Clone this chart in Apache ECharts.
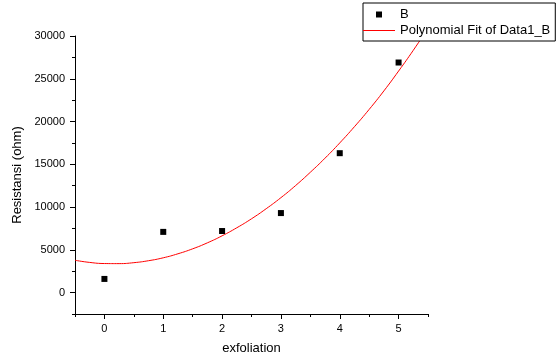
<!DOCTYPE html>
<html>
<head>
<meta charset="utf-8">
<script src="https://cdn.jsdelivr.net/npm/echarts@6/dist/echarts.min.js"></script>
<style>
  html, body { margin: 0; padding: 0; background: #fff; }
  #chart { width: 560px; height: 360px; }
</style>
</head>
<body>
<div id="chart"></div>
<script>
// measured points (series B)
var pointX = [0, 1, 2, 3, 4, 5];
var pointY = [1600, 7100, 7200, 9300, 16300, 26900];

// red curve
var fitX = [-0.5, -0.25, 0, 0.25, 0.5, 0.75, 1, 1.25, 1.5, 1.75, 2, 2.25, 2.5,
            2.75, 3, 3.25, 3.5, 3.75, 4, 4.25, 4.5, 4.75, 5, 5.25, 5.5];
var fitY = [3780, 3530, 3400, 3390, 3500, 3730, 4070, 4540, 5120, 5820, 6640, 7580, 8630,
            9810, 11100, 12520, 14070, 15720, 17500, 19400, 21420, 23580, 25900, 28330, 30900];

// tick positions
var xMajor = [0, 1, 2, 3, 4, 5];
var xMinor = [-0.5, 0.5, 1.5, 2.5, 3.5, 4.5, 5.5];
var yMajor = [0, 5000, 10000, 15000, 20000, 25000, 30000];
var yMinor = [-2500, 2500, 7500, 12500, 17500, 22500, 27500];

var font = "'Liberation Sans', Arial, sans-serif";
var myChart = echarts.init(document.getElementById('chart'));

var gridBox = { left: 75, right: 132, top: 36, bottom: 46, outerBoundsMode: 'none' };

function plain(v) { return String(v); }

myChart.setOption({
  animation: false,
  backgroundColor: '#fff',
  textStyle: { fontFamily: font },
  grid: [
    Object.assign({}, gridBox),
    Object.assign({}, gridBox)
  ],
  legend: {
    orient: 'vertical',
    left: 363,
    top: 3,
    itemWidth: 32,
    itemHeight: 6,
    itemGap: 3,
    padding: [5, 5, 4, 0],
    borderColor: '#000',
    borderWidth: 1,
    backgroundColor: '#fff',
    textStyle: { fontSize: 13, color: '#000', fontFamily: font },
    data: [
      { name: 'B', icon: 'path://M0,0H10V10H0Z' },
      { name: 'Polynomial Fit of Data1_B', icon: 'path://M0,0H32V1H0Z' }
    ]
  },
  xAxis: [
    {
      type: 'value', gridIndex: 0, min: -0.5, max: 5.5,
      name: 'exfoliation', nameLocation: 'middle', nameGap: 28,
      nameTextStyle: { fontSize: 13, color: '#000' },
      splitLine: { show: false },
      axisLine: { onZero: false, lineStyle: { color: '#000', width: 1 } },
      axisTick: { customValues: xMajor, length: 5, lineStyle: { color: '#000' } },
      axisLabel: { customValues: xMajor, fontSize: 11, color: '#000', margin: 9, formatter: plain }
    },
    {
      type: 'value', gridIndex: 1, min: -0.5, max: 5.5,
      splitLine: { show: false },
      axisLine: { show: false, onZero: false },
      axisTick: { customValues: xMinor, length: 3, lineStyle: { color: '#000' } },
      axisLabel: { show: false }
    }
  ],
  yAxis: [
    {
      type: 'value', gridIndex: 0, min: -2500, max: 30000,
      name: 'Resistansi (ohm)', nameLocation: 'middle', nameGap: 46,
      nameTextStyle: { fontSize: 13, color: '#000' },
      splitLine: { show: false },
      axisLine: { show: true, onZero: false, lineStyle: { color: '#000', width: 1 } },
      axisTick: { show: true, customValues: yMajor, length: 5, lineStyle: { color: '#000' } },
      axisLabel: { customValues: yMajor, fontSize: 11, color: '#000', margin: 10, formatter: plain }
    },
    {
      type: 'value', gridIndex: 1, min: -2500, max: 30000,
      splitLine: { show: false },
      axisLine: { show: false, onZero: false },
      axisTick: { show: true, customValues: yMinor, length: 3, lineStyle: { color: '#000' } },
      axisLabel: { show: false }
    }
  ],
  series: [
    {
      name: 'B',
      type: 'scatter',
      xAxisIndex: 0, yAxisIndex: 0,
      symbol: 'rect',
      symbolSize: 6,
      itemStyle: { color: '#000', opacity: 1 },
      data: pointX.map(function (x, i) { return [x, pointY[i]]; })
    },
    {
      name: 'Polynomial Fit of Data1_B',
      type: 'line',
      xAxisIndex: 0, yAxisIndex: 0,
      symbol: 'none',
      smooth: true,
      clip: false,
      lineStyle: { color: '#ff0000', width: 1 },
      itemStyle: { color: '#ff0000' },
      data: fitX.map(function (x, i) { return [x, fitY[i]]; })
    }
  ]
});
</script>
</body>
</html>
